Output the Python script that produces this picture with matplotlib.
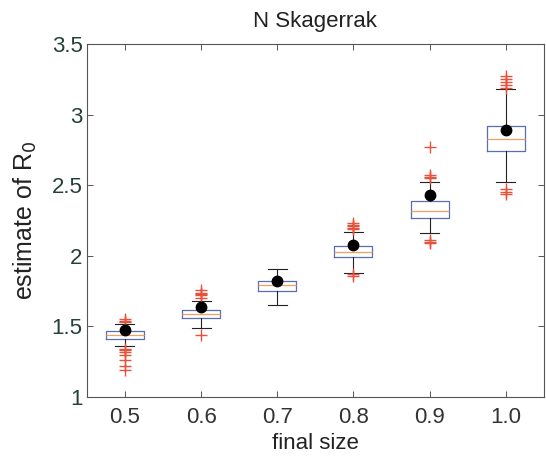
import matplotlib.pyplot as plt

plt.rcParams['font.family'] = ['Liberation Sans', 'DejaVu Sans']

# final size categories
labels = ['0.5', '0.6', '0.7', '0.8', '0.9', '1.0']

# box statistics
q1 = [1.41, 1.56, 1.75, 1.99, 2.27, 2.74]
med = [1.44, 1.59, 1.79, 2.03, 2.32, 2.83]
q3 = [1.465, 1.615, 1.82, 2.07, 2.39, 2.92]
whislo = [1.36, 1.49, 1.65, 1.88, 2.16, 2.52]
whishi = [1.52, 1.68, 1.91, 2.17, 2.52, 3.18]
means = [1.475, 1.637, 1.82, 2.08, 2.43, 2.89]

# outliers
out_05 = [1.53, 1.54, 1.55, 1.34, 1.33, 1.32, 1.30, 1.26, 1.22, 1.19]
out_06 = [1.70, 1.72, 1.73, 1.74, 1.76, 1.44]
out_07 = []
out_08 = [2.19, 2.20, 2.21, 2.22, 2.23, 1.86, 1.87]
out_09 = [2.55, 2.56, 2.57, 2.77, 2.10, 2.11, 2.09]
out_10 = [3.19, 3.21, 3.23, 3.25, 3.27, 2.47, 2.45, 2.44]
outliers = [out_05, out_06, out_07, out_08, out_09, out_10]

fig = plt.figure(figsize=(5.46, 4.63), dpi=100)
ax = fig.add_axes([0.159, 0.1425, 0.837, 0.7625])

stats = []
for i in range(len(labels)):
    stats.append(dict(q1=q1[i], med=med[i], q3=q3[i], whislo=whislo[i],
                      whishi=whishi[i], fliers=outliers[i], label=labels[i]))

ax.bxp(stats, positions=range(1, 7), widths=0.5, capwidths=0.25,
       boxprops=dict(color='#5a6fb0', linewidth=0.9),
       medianprops=dict(color='#f0a060', linewidth=0.9),
       whiskerprops=dict(color='#222222', linewidth=0.8),
       capprops=dict(color='#222222', linewidth=0.8),
       flierprops=dict(marker='+', markeredgecolor='#e8523a', markersize=8,
                       markeredgewidth=1.0, linestyle='none'))

ax.plot(range(1, 7), means, 'o', color='black', markersize=7.5, zorder=5)

ax.set_xlim(0.5, 6.5)
ax.set_ylim(1, 3.5)
ax.set_yticks([1, 1.5, 2, 2.5, 3, 3.5])
ax.set_yticklabels(['1', '1.5', '2', '2.5', '3', '3.5'])
ax.set_xticks(range(1, 7))
ax.set_xticklabels(labels)
ax.tick_params(direction='in', top=True, right=True, length=4, width=0.7,
               labelsize=16, colors='#555555')
ax.tick_params(axis='x', pad=7)
ax.tick_params(axis='y', pad=3)
for lab in ax.get_yticklabels():
    lab.set_color('#24403a')
for lab in ax.get_xticklabels():
    lab.set_color('#333333')
for sp in ax.spines.values():
    sp.set_color('#555555')
    sp.set_linewidth(0.8)

ax.set_title('N Skagerrak', fontsize=16, color='#222222', pad=12)
ax.set_xlabel('final size', fontsize=16, color='#222222', labelpad=4)
ax.set_ylabel('estimate of R$_0$', fontsize=18, color='#222222', labelpad=9)

fig.savefig('out.png', dpi=100)
